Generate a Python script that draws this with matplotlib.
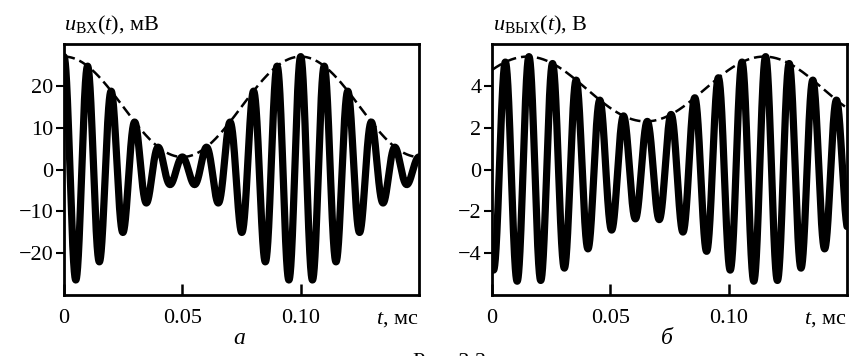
import numpy as np
import matplotlib
matplotlib.use("Agg")
import matplotlib.pyplot as plt
from matplotlib import transforms

plt.rcParams['font.family'] = ['Liberation Serif', 'DejaVu Serif']
plt.rcParams['mathtext.fontset'] = 'custom'
plt.rcParams['mathtext.rm'] = 'Liberation Serif'
plt.rcParams['mathtext.it'] = 'Liberation Serif:italic'
plt.rcParams['axes.unicode_minus'] = True

# values (time in ms)
t_end = 0.15
carrier_period = 0.01      # 100 kHz carrier
mod_period = 0.1           # 10 kHz modulation

# input signal, mV: envelope 15 +- 12, envelope max at t = 0
in_mean = 15.0
in_dev = 12.0
in_env_shift = 0.0
in_carrier_phase = 0.0

# output signal, V: envelope 3.85 +- 1.55, delayed by ~0.015 ms
out_mean = 3.85
out_dev = 1.55
out_env_shift = 0.015
out_carrier_phase = 2.76

x_ticks = [0, 0.05, 0.10]
x_ticklabels = ['0', '0.05', '0.10']
in_yticks = [-20, -10, 0, 10, 20]
out_yticks = [-4, -2, 0, 2, 4]

titles = [r'$u_{\mathrm{ВХ}}(t)$, мВ', r'$u_{\mathrm{ВЫХ}}(t)$, В']
letters = ['а', 'б']

FS = 16

t = np.linspace(0, t_end, 3000)


def envelope(mean, dev, shift):
    return mean + dev * np.cos(2 * np.pi * (t - shift) / mod_period)


fig = plt.figure(figsize=(8.65, 3.56), dpi=100)
ax1 = fig.add_axes([0.074, 0.1713, 0.4104, 0.705])
ax2 = fig.add_axes([0.5688, 0.1713, 0.4104, 0.705])

params = [(ax1, in_mean, in_dev, in_env_shift, in_carrier_phase, 30, in_yticks),
          (ax2, out_mean, out_dev, out_env_shift, out_carrier_phase, 6, out_yticks)]

for i, (ax, mean, dev, shift, phase, lim, yt) in enumerate(params):
    env = envelope(mean, dev, shift)
    sig = env * np.cos(2 * np.pi * t / carrier_period + phase)
    ax.plot(t, sig, color='black', lw=5.2, solid_capstyle='round', solid_joinstyle='round')
    ax.plot(t, env, color='black', lw=1.8, dashes=(4.4, 2))
    ax.set_xlim(0, t_end)
    ax.set_ylim(-lim, lim)
    ax.set_xticks(x_ticks)
    ax.set_xticklabels(x_ticklabels)
    ax.set_yticks(yt)
    ax.tick_params(axis='x', direction='in', length=8, width=1.8, pad=10, labelsize=FS)
    ax.tick_params(axis='y', direction='out', length=6, width=1.5, pad=1.5, labelsize=FS)
    for s in ax.spines.values():
        s.set_linewidth(2.0)
    trans = transforms.blended_transform_factory(ax.transData, ax.transAxes)
    ax.text(0.132, -0.0597, '$t$, мс', transform=trans, ha='left', va='top', fontsize=FS)
    ax.text(0.074, -0.197, letters[i], transform=trans, ha='center', va='baseline',
            fontsize=17, style='italic')

fig.text(0.074, 0.9157, titles[0], ha='left', va='baseline', fontsize=FS)
fig.text(0.5700, 0.9157, titles[1], ha='left', va='baseline', fontsize=FS)
# figure caption, cut by the lower edge as in the source scan
fig.text(0.52, -0.03, 'Рис. 3.3', ha='center', va='baseline', fontsize=FS)

fig.savefig('out.png', dpi=100)
